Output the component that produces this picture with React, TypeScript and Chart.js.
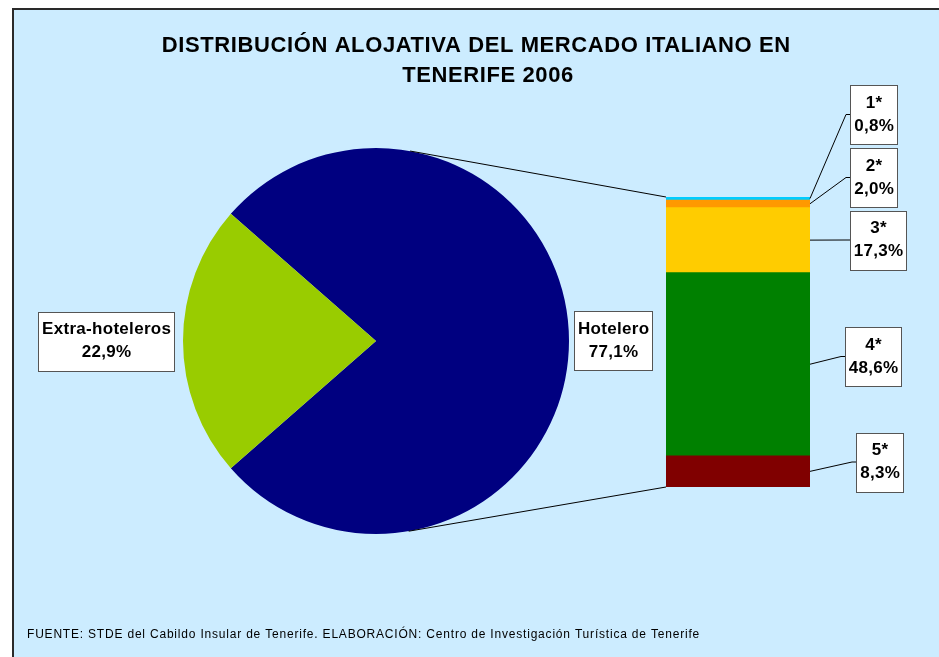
import React, { useEffect, useRef } from "react";
import { Chart, registerables } from "chart.js";

Chart.register(...registerables);

// ---------- data ----------
const TITLE_LINES = ["DISTRIBUCIÓN ALOJATIVA DEL MERCADO ITALIANO EN", "TENERIFE 2006"];
const PIE_LABELS = ["Hotelero", "Extra-hoteleros"];
const PIE_VALUES = [77.1, 22.9];
const PIE_COLORS = ["#000080", "#99CC00"];
const BAR_LABELS = ["5*", "4*", "3*", "2*", "1*"];
const BAR_VALUES = [8.3, 48.6, 17.3, 2.0, 0.8];
const BAR_COLORS = ["#800000", "#008000", "#FFCC00", "#FF9900", "#00CCFF"];
const FOOTER =
  "FUENTE: STDE del Cabildo Insular de Tenerife. ELABORACIÓN: Centro de Investigación Turística de Tenerife";

// ---------- layout ----------
const W = 939;
const H = 657;
const FONT = "'Liberation Sans', Arial, sans-serif";
const BAR_LABEL_LEFT = [856, 845, 850, 850, 850];
const BAR_LABEL_CY = [462, 356.5, 240, 177.5, 114.5];
const LABEL_SPACING = 0.3;

const fmt = (v: number) => v.toFixed(1).replace(".", ",") + "%";

function drawBox(
  ctx: CanvasRenderingContext2D,
  lines: string[],
  left: number | null,
  cy: number,
  right?: number
) {
  ctx.save();
  ctx.font = `bold 17px ${FONT}`;
  (ctx as any).letterSpacing = LABEL_SPACING + "px";
  const tw = Math.max(...lines.map((l) => ctx.measureText(l).width)) - LABEL_SPACING;
  const w = Math.round(tw + 7);
  const h = 59;
  let x0: number;
  if (left !== null) x0 = left;
  else x0 = (right as number) - w;
  x0 = Math.round(x0) + 0.5;
  const y0 = Math.round(cy - h / 2) + 0.5;
  ctx.fillStyle = "#ffffff";
  ctx.fillRect(x0, y0, w, h);
  ctx.strokeStyle = "#555555";
  ctx.lineWidth = 1;
  ctx.strokeRect(x0, y0, w, h);
  ctx.fillStyle = "#000000";
  ctx.textAlign = "center";
  ctx.textBaseline = "middle";
  const mx = x0 + w / 2 + LABEL_SPACING / 2;
  ctx.fillText(lines[0], mx, cy - 11.5);
  ctx.fillText(lines[1], mx, cy + 11.5);
  ctx.restore();
}

export default function App() {
  const barRef = useRef<HTMLCanvasElement>(null);
  const pieRef = useRef<HTMLCanvasElement>(null);

  useEffect(() => {
    const barTotal = BAR_VALUES.reduce((a, b) => a + b, 0);
    const barChart = new Chart(barRef.current as HTMLCanvasElement, {
      type: "bar",
      data: {
        labels: [""],
        datasets: BAR_LABELS.map((l, i) => ({
          label: l,
          data: [BAR_VALUES[i]],
          backgroundColor: BAR_COLORS[i],
          borderWidth: 0,
          barPercentage: 1,
          categoryPercentage: 1,
        })),
      },
      options: {
        responsive: false,
        animation: false,
        devicePixelRatio: 1,
        layout: { padding: { left: 666, right: W - 810, top: 197, bottom: H - 487 } },
        plugins: { legend: { display: false }, tooltip: { enabled: false }, title: { display: false } },
        scales: {
          x: { stacked: true, display: false },
          y: { stacked: true, display: false, min: 0, max: barTotal },
        },
      },
    });

    const pieTotal = PIE_VALUES.reduce((a, b) => a + b, 0);
    const extraDeg = (PIE_VALUES[1] / pieTotal) * 360;

    const overlay = {
      id: "overlay",
      afterDraw(chart: any) {
        const ctx: CanvasRenderingContext2D = chart.ctx;
        ctx.save();
        // title
        ctx.fillStyle = "#000";
        ctx.font = `bold 22px ${FONT}`;
        (ctx as any).letterSpacing = "0.6px";
        ctx.textAlign = "center";
        ctx.textBaseline = "middle";
        ctx.fillText(TITLE_LINES[0], 476.3, 46);
        ctx.fillText(TITLE_LINES[1], 488, 76);
        // footer
        ctx.font = `12px ${FONT}`;
        (ctx as any).letterSpacing = "0.8px";
        ctx.textAlign = "left";
        ctx.fillText(FOOTER, 27, 635);
        (ctx as any).letterSpacing = "0px";

        const arcs = chart.getDatasetMeta(0).data;
        const cx = arcs[0].x;
        const cy = arcs[0].y;
        const R = arcs[0].outerRadius;

        // bar geometry
        const metas = BAR_LABELS.map((_, i) => barChart.getDatasetMeta(i).data[0] as any);
        const bLeft = metas[0].x - metas[0].width / 2;
        const bRight = metas[0].x + metas[0].width / 2;
        const bBottom = metas[0].base;
        const bTop = metas[metas.length - 1].y;

        // connector lines (tangent to pie)
        ctx.strokeStyle = "#000";
        ctx.lineWidth = 1;
        const tangent = (px: number, py: number, sign: number) => {
          const vx = px - cx;
          const vy = py - cy;
          const d = Math.hypot(vx, vy);
          const phi = Math.atan2(vy, vx);
          const a = Math.acos(R / d);
          const t = phi + sign * a;
          return [cx + R * Math.cos(t), cy + R * Math.sin(t)];
        };
        const [tx1, ty1] = tangent(bLeft, bTop, -1);
        const [tx2, ty2] = tangent(bLeft, bBottom, 1);
        ctx.beginPath();
        ctx.moveTo(tx1, ty1);
        ctx.lineTo(bLeft, bTop);
        ctx.moveTo(tx2, ty2);
        ctx.lineTo(bLeft, bBottom);
        ctx.stroke();

        // bar labels with leader lines
        BAR_LABELS.forEach((lab, i) => {
          const m = metas[i];
          const mid = (m.y + m.base) / 2;
          const left = BAR_LABEL_LEFT[i];
          const lcy = BAR_LABEL_CY[i];
          ctx.beginPath();
          ctx.moveTo(bRight, mid);
          ctx.lineTo(left - 4, lcy);
          ctx.lineTo(left, lcy);
          ctx.stroke();
          drawBox(ctx, [lab, fmt(BAR_VALUES[i])], left, lcy);
        });

        // pie labels
        arcs.forEach((arc: any, i: number) => {
          const mid = (arc.startAngle + arc.endAngle) / 2;
          const onLeft = Math.cos(mid) < 0;
          const gap = onLeft ? 9 : 5;
          const ax = cx + (R + gap) * Math.cos(mid);
          const ay = cy + (R + gap) * Math.sin(mid);
          const lines = [PIE_LABELS[i], fmt(PIE_VALUES[i])];
          if (onLeft) drawBox(ctx, lines, null, ay, ax);
          else drawBox(ctx, lines, ax, ay);
        });
        ctx.restore();
      },
    };

    const pieChart = new Chart(pieRef.current as HTMLCanvasElement, {
      type: "pie",
      data: {
        labels: PIE_LABELS,
        datasets: [{ data: PIE_VALUES, backgroundColor: PIE_COLORS, borderWidth: 0 }],
      },
      options: {
        responsive: false,
        animation: false,
        devicePixelRatio: 1,
        rotation: 270 + extraDeg / 2,
        layout: { padding: { left: 183, right: W - 569, top: 148, bottom: H - 534 } },
        plugins: { legend: { display: false }, tooltip: { enabled: false }, title: { display: false } },
      },
      plugins: [overlay],
    });

    return () => {
      pieChart.destroy();
      barChart.destroy();
    };
  }, []);

  return (
    <div style={{ position: "absolute", left: 0, top: 0, width: W, height: H, overflow: "hidden", background: "#fff" }}>
      <div
        style={{
          position: "absolute",
          left: 12,
          top: 8,
          width: W,
          height: H,
          background: "#CCECFF",
          borderLeft: "2px solid #2a2a2a",
          borderTop: "2px solid #2a2a2a",
        }}
      />
      <canvas ref={barRef} width={W} height={H} style={{ position: "absolute", left: 0, top: 0 }} />
      <canvas ref={pieRef} width={W} height={H} style={{ position: "absolute", left: 0, top: 0 }} />
    </div>
  );
}
